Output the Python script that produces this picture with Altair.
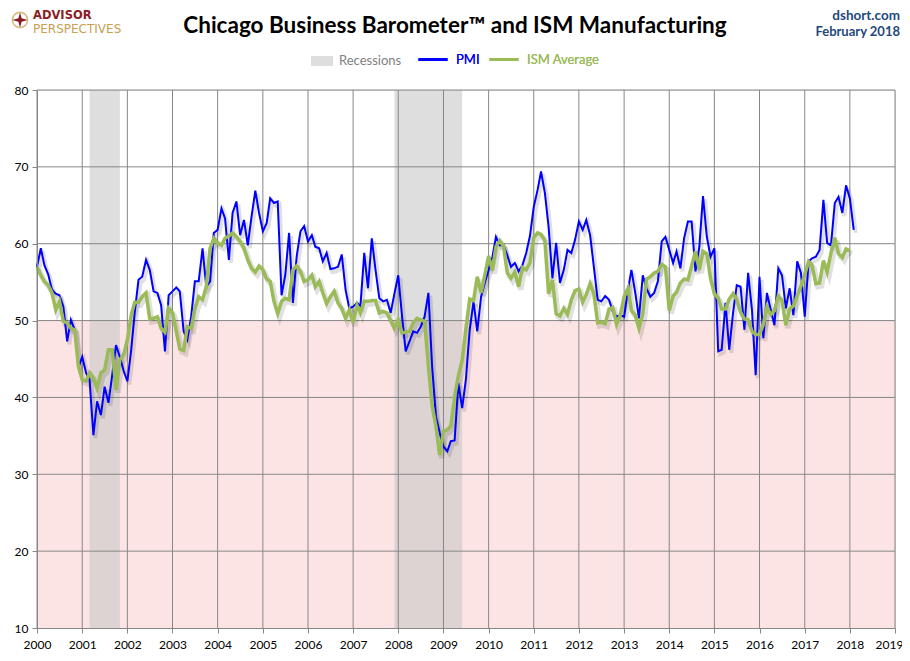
import altair as alt
import pandas as pd

TITLE = "Chicago Business Barometer™ and ISM Manufacturing"
SOURCE = "dshort.com"
DATE_LABEL = "February 2018"
LOGO_TOP = "ADVISOR"
LOGO_BOTTOM = "PERSPECTIVES"

SERIES = ["PMI", "ISM Average"]
RECESSION_LABEL = "Recessions"

PMI = [
    57.0, 59.4, 57.2, 56.0, 54.0, 53.5, 53.3, 51.8, 47.3, 50.1, 48.8, 43.9,
    45.3, 43.2, 42.3, 35.1, 39.5, 37.7, 41.4, 39.3, 43.0, 46.8, 45.3, 43.5,
    42.1, 46.2, 51.0, 55.3, 55.7, 57.9, 56.6, 53.8, 53.6, 52.0, 46.0, 53.3,
    53.8, 54.3, 53.8, 48.6, 47.5, 50.5, 55.1, 55.1, 59.4, 54.4, 55.1, 61.4,
    61.8, 64.6, 63.3, 57.9, 64.0, 65.5, 61.1, 63.1, 59.8, 63.5, 66.9, 64.0,
    61.6, 62.7, 65.9, 65.3, 65.5, 53.3, 55.9, 61.4, 52.3, 58.3, 61.6, 62.3,
    60.3, 61.1, 59.6, 59.4, 57.7, 58.8, 56.7, 56.8, 57.0, 58.6, 54.0, 51.6,
    51.8, 52.3, 51.9, 58.8, 54.2, 60.7, 56.6, 52.9, 52.5, 52.7, 51.0, 53.5,
    55.9, 50.5, 46.0, 47.3, 48.6, 48.4, 49.2, 50.5, 53.6, 44.0, 37.5, 35.4,
    33.6, 33.0, 34.3, 34.4, 41.9, 38.6, 42.3, 48.8, 52.5, 48.6, 53.1, 54.9,
    56.6, 58.3, 60.9, 59.8, 59.8, 58.5, 57.0, 57.5, 56.4, 57.2, 58.8, 61.0,
    64.8, 67.0, 69.4, 66.6, 62.2, 55.5, 60.1, 54.9, 56.6, 59.2, 58.8, 60.5,
    62.9, 61.8, 63.1, 61.1, 57.0, 52.7, 52.5, 53.2, 52.7, 51.2, 50.5, 50.7,
    50.5, 54.0, 56.6, 53.6, 50.3, 55.9, 54.2, 53.1, 53.6, 55.1, 60.3, 60.9,
    59.2, 57.5, 59.0, 56.8, 60.7, 62.9, 62.9, 56.4, 59.6, 66.2, 60.9, 58.3,
    59.4, 46.0, 46.2, 52.3, 46.2, 51.0, 54.6, 54.4, 48.8, 56.2, 51.4, 42.9,
    55.7, 47.7, 53.6, 51.4, 49.4, 56.8, 55.9, 51.6, 54.2, 50.7, 57.7, 56.2,
    50.5, 57.7, 58.1, 58.3, 59.2, 65.7, 60.1, 59.8, 65.3, 66.1, 64.0, 67.6,
    65.9, 61.8,
]

ISM = [
    57.0, 55.9, 55.1, 54.6, 53.6, 51.4, 52.5, 49.9, 49.7, 49.0, 48.8, 44.0,
    42.3, 42.1, 43.2, 42.5, 41.2, 43.2, 43.6, 46.2, 46.2, 41.0, 44.9, 45.5,
    47.5, 50.7, 52.4, 52.4, 53.1, 53.6, 50.2, 50.3, 50.5, 49.0, 48.5, 51.6,
    51.0, 48.6, 46.3, 46.1, 49.2, 49.0, 51.5, 53.1, 52.7, 54.4, 59.4, 60.7,
    60.1, 59.8, 60.7, 61.0, 61.4, 60.9, 60.3, 59.4, 57.9, 56.8, 56.3, 57.1,
    56.6, 55.4, 55.1, 52.5, 50.9, 52.5, 52.9, 52.7, 56.6, 57.1, 56.4, 55.1,
    55.3, 55.9, 54.4, 55.1, 53.6, 52.2, 53.1, 53.8, 52.3, 51.6, 50.3, 51.4,
    49.7, 52.0, 51.0, 52.5, 52.5, 52.6, 52.6, 51.0, 51.2, 51.0, 50.0, 49.0,
    50.1, 48.4, 48.5, 48.6, 49.7, 50.3, 50.1, 49.9, 44.0, 38.9, 36.2, 32.5,
    35.6, 35.8, 36.3, 40.1, 42.8, 44.8, 48.9, 52.8, 52.6, 55.7, 53.6, 55.9,
    58.4, 56.5, 59.6, 60.4, 59.7, 56.2, 55.5, 56.3, 54.4, 56.9, 56.6, 57.5,
    60.8, 61.4, 61.2, 60.4, 53.5, 55.3, 50.9, 50.6, 51.6, 50.8, 52.7, 53.9,
    54.1, 52.4, 53.4, 54.8, 53.5, 49.7, 49.8, 49.6, 51.5, 51.7, 49.5, 50.7,
    53.1, 54.2, 51.3, 50.7, 49.0, 50.9, 55.4, 55.7, 56.2, 56.4, 57.3, 57.0,
    51.3, 53.2, 53.7, 54.9, 55.4, 55.3, 57.1, 59.0, 56.6, 59.0, 58.7, 55.5,
    53.5, 52.9, 51.5, 51.5, 52.8, 53.5, 52.7, 51.1, 50.2, 50.1, 48.6, 48.2,
    48.2, 49.5, 51.8, 50.8, 51.3, 53.2, 52.6, 49.4, 51.5, 51.9, 53.2, 54.5,
    56.0, 57.7, 57.2, 54.8, 54.9, 57.8, 56.3, 58.8, 60.8, 58.7, 58.2, 59.3,
    59.1,
]

REC_START = ["2001-03-01", "2007-12-01"]
REC_END = ["2001-11-01", "2009-06-01"]

YEARS = list(range(2000, 2020))
Y_TICKS = [10, 20, 30, 40, 50, 60, 70, 80]
Y_GRID = [20, 30, 40, 50, 60, 70, 80]
Y_MIN, Y_MAX = 10, 80
PINK_LO, PINK_HI = 10, 50

# ---------- styles ----------
FONT = "Lato"
GRID = "#878787"
BLUE = "#0000FF"
GREEN = "#9BBB59"
PINK = "#FDE4E4"
REC_GRAY = "#C8C8C8"
LOGO_RED = "#8B1E24"
LOGO_GOLD = "#C9A04E"
W, H = 858, 538

# ---------- tables ----------
pmi_dates = pd.date_range("2000-01-01", periods=len(PMI), freq="MS").strftime("%Y-%m-%d")
ism_dates = pd.date_range("2000-01-01", periods=len(ISM), freq="MS").strftime("%Y-%m-%d")
pmi_df = pd.DataFrame({"date": pmi_dates, "value": PMI, "series": SERIES[0]})
ism_df = pd.DataFrame({"date": ism_dates, "value": ISM, "series": SERIES[1]})
rec_df = pd.DataFrame({"start": REC_START, "end": REC_END, "label": RECESSION_LABEL})
year_df = pd.DataFrame({"d": [f"{y}-01-01" for y in YEARS]})
ygrid_df = pd.DataFrame({"v": Y_GRID})
band_df = pd.DataFrame({"lo": [PINK_LO], "hi": [PINK_HI]})

XSCALE = alt.Scale(domain=[alt.DateTime(year=YEARS[0], month=1, date=1),
                           alt.DateTime(year=YEARS[-1], month=1, date=1)])
XAXIS = alt.Axis(values=[alt.DateTime(year=y, month=1, date=1) for y in YEARS],
                 format="%Y", title=None, grid=False, domainColor=GRID,
                 tickColor=GRID, tickSize=5, labelPadding=6, labelFont=FONT,
                 labelFontSize=12, labelColor="#000000", labelFlush=False,
                 labelOverlap=False, zindex=1,
                 labelOffset={"condition": {"test": f"year(datum.value) == {YEARS[-1]}",
                                            "value": -6}, "value": 0})
YSCALE = alt.Scale(domain=[Y_MIN, Y_MAX], nice=False, zero=False)
YAXIS = alt.Axis(values=Y_TICKS, title=None, grid=False, domainColor=GRID,
                 tickColor=GRID, tickSize=5, labelPadding=4, labelFont=FONT,
                 labelFontSize=12, labelColor="#000000", zindex=1)

band = alt.Chart(band_df).mark_rect(color=PINK).encode(
    y=alt.Y("lo:Q", scale=YSCALE, axis=YAXIS), y2="hi:Q",
    x=alt.value(0), x2=alt.value("width"))

rec = alt.Chart(rec_df).mark_rect(fillOpacity=0.6).encode(
    x=alt.X("start:T", scale=XSCALE, axis=XAXIS), x2="end:T",
    y=alt.value(0), y2=alt.value("height"),
    fill=alt.Fill("label:N", scale=alt.Scale(domain=[RECESSION_LABEL], range=[REC_GRAY]),
                  legend=alt.Legend(title=None, orient="none", legendX=274, legendY=-40,
                                    direction="horizontal",
                                    symbolType="M-1,-0.45H1V0.45H-1Z", symbolSize=484,
                                    symbolOpacity=0.6, symbolStrokeWidth=0,
                                    labelFont=FONT, labelFontSize=13,
                                    labelColor="#7F7F7F", labelOffset=6)))

vgrid = alt.Chart(year_df).mark_rule(color=GRID, strokeWidth=1).encode(
    x=alt.X("d:T", scale=XSCALE, axis=XAXIS))
hgrid = alt.Chart(ygrid_df).mark_rule(color=GRID, strokeWidth=1).encode(
    y=alt.Y("v:Q", scale=YSCALE, axis=YAXIS))

COLOR = alt.Color("series:N", scale=alt.Scale(domain=SERIES, range=[BLUE, GREEN]),
                  legend=alt.Legend(title=None, orient="none", legendX=380, legendY=-46.5,
                                    direction="horizontal", symbolType="stroke",
                                    symbolSize=841, symbolStrokeWidth=3,
                                    labelFont=FONT, labelFontSize=13, labelOffset=7,
                                    columnPadding=3,
                                    labelColor={"expr": f"datum.label == '{SERIES[0]}' ? '{BLUE}' : '{GREEN}'"}))

def line_layer(df, width, shadow=False):
    if shadow:
        m = alt.Chart(df).mark_line(color="#000000", strokeWidth=width + 2, opacity=0.12,
                                    xOffset=2, yOffset=3)
    else:
        m = alt.Chart(df).mark_line(strokeWidth=width)
    enc = dict(x=alt.X("date:T", scale=XSCALE, axis=XAXIS),
               y=alt.Y("value:Q", scale=YSCALE, axis=YAXIS))
    if not shadow:
        enc["color"] = COLOR
    return m.encode(**enc)

def text_layer(txt, x, y, font=FONT, **kw):
    return alt.Chart(pd.DataFrame({"t": [txt]})).mark_text(font=font, **kw).encode(
        text="t:N", x=alt.value(x), y=alt.value(y))

title = text_layer(TITLE, 418, -57, fontSize=22.5, fontWeight="bold", align="center",
                   baseline="alphabetic", color="#000000")
src = text_layer(SOURCE, 863, -70, fontSize=13.5, fontWeight="bold", align="right",
                 baseline="alphabetic", color="#1F497D")
dte = text_layer(DATE_LABEL, 863, -54, fontSize=13, fontWeight="bold", align="right",
                 baseline="alphabetic", color="#1F497D")
logo1 = text_layer(LOGO_TOP, -4, -71, font="DejaVu Sans", fontSize=11.5, fontWeight="bold",
                   align="left", baseline="alphabetic", color=LOGO_RED)
logo2 = text_layer(LOGO_BOTTOM, -4, -57.5, font="DejaVu Sans", fontSize=12,
                   align="left", baseline="alphabetic", color=LOGO_GOLD)
icon = alt.Chart(pd.DataFrame({"t": [LOGO_TOP]})).mark_point(
    shape="circle", size=230, color=LOGO_GOLD, strokeWidth=1.6, filled=False).encode(
    x=alt.value(-17), y=alt.value(-70))
icon2 = alt.Chart(pd.DataFrame({"t": [LOGO_TOP]})).mark_point(
    shape="M0,-1L0.22,-0.22L1,0L0.22,0.22L0,1L-0.22,0.22L-1,0L-0.22,-0.22Z",
    size=230, color=LOGO_RED, filled=True, opacity=1).encode(
    x=alt.value(-17), y=alt.value(-70))

chart = alt.layer(
    band, rec, vgrid, hgrid,
    line_layer(pmi_df, 2, shadow=True), line_layer(ism_df, 3.5, shadow=True),
    line_layer(pmi_df, 2), line_layer(ism_df, 3.5),
    title, src, dte, logo1, logo2, icon, icon2,
).resolve_scale(fill="independent", color="independent").properties(
    width=W, height=H,
    padding={"left": 29, "top": 82, "right": 7, "bottom": 25},
    autosize=alt.AutoSizeParams(type="none"),
).configure_view(strokeWidth=0).configure(background="white")

chart.save("out.html", embed_options={"renderer": "svg", "actions": False})
